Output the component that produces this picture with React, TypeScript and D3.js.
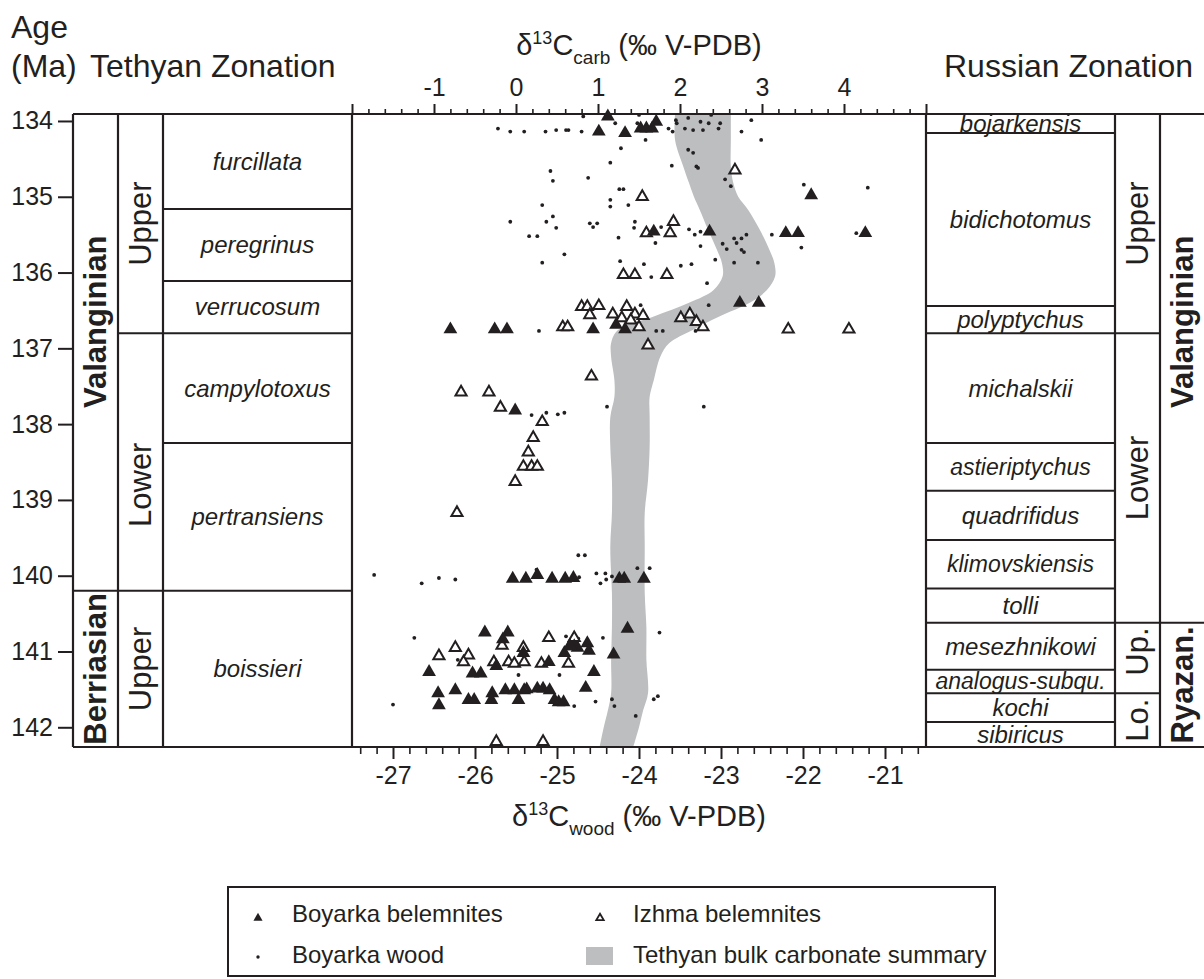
import { useEffect, useRef } from 'react'
import * as d3 from 'd3'

// ---- data ----
type Unit = { name: string; top: number; base: number; labelAge?: number }

const ageTicks = [134, 135, 136, 137, 138, 139, 140, 141, 142]
const carbLabels = [-1, 0, 1, 2, 3, 4]
const woodLabels = [-27, -26, -25, -24, -23, -22, -21]

const tethyanStages: Unit[] = [
  { name: 'Valanginian', top: 133.9, base: 140.2, labelAge: 136.65 },
  { name: 'Berriasian', top: 140.2, base: 142.26 },
]
const tethyanSubstages: Unit[] = [
  { name: 'Upper', top: 133.9, base: 136.8 },
  { name: 'Lower', top: 136.8, base: 140.2, labelAge: 138.8 },
  { name: 'Upper', top: 140.2, base: 142.26 },
]
const tethyanZones: Unit[] = [
  { name: 'furcillata', top: 133.9, base: 135.16 },
  { name: 'peregrinus', top: 135.16, base: 136.11 },
  { name: 'verrucosum', top: 136.11, base: 136.8 },
  { name: 'campylotoxus', top: 136.8, base: 138.25 },
  { name: 'pertransiens', top: 138.25, base: 140.2 },
  { name: 'boissieri', top: 140.2, base: 142.26 },
]
const russianZones: Unit[] = [
  { name: 'bojarkensis', top: 133.9, base: 134.16 },
  { name: 'bidichotomus', top: 134.16, base: 136.44 },
  { name: 'polyptychus', top: 136.44, base: 136.8 },
  { name: 'michalskii', top: 136.8, base: 138.25 },
  { name: 'astieriptychus', top: 138.25, base: 138.88 },
  { name: 'quadrifidus', top: 138.88, base: 139.53 },
  { name: 'klimovskiensis', top: 139.53, base: 140.17 },
  { name: 'tolli', top: 140.17, base: 140.62 },
  { name: 'mesezhnikowi', top: 140.62, base: 141.24 },
  { name: 'analogus-subqu.', top: 141.24, base: 141.55 },
  { name: 'kochi', top: 141.55, base: 141.93 },
  { name: 'sibiricus', top: 141.93, base: 142.26 },
]
const russianSubstages: Unit[] = [
  { name: 'Upper', top: 133.9, base: 136.8 },
  { name: 'Lower', top: 136.8, base: 140.62 },
  { name: 'Up.', top: 140.62, base: 141.55, labelAge: 141.0 },
  { name: 'Lo.', top: 141.55, base: 142.26 },
]
const russianStages: Unit[] = [
  { name: 'Valanginian', top: 133.9, base: 140.62, labelAge: 136.65 },
  { name: 'Ryazan.', top: 140.62, base: 142.26 },
]

// [age Ma, d13C carb]
const boyarkaBelemnites: [number, number][] = [
  [133.94, 1.12], [134.14, 1.01], [134.16, 1.33], [134.1, 1.52], [134.1, 1.59], [134.1, 1.66], [134.01, 1.71],
  [134.98, 3.6], [135.46, 2.36], [135.48, 3.29], [135.48, 3.44], [135.48, 4.26], [135.46, 1.68],
  [136.4, 2.73], [136.4, 2.96],
  [136.75, -0.8], [136.75, -0.26], [136.75, -0.11], [136.75, 0.94], [136.69, 1.22], [136.75, 1.33],
  [137.82, -0.01],
  [140.04, -0.04], [140.04, 0.12], [139.99, 0.26], [140.04, 0.44], [140.04, 0.6], [140.03, 0.7],
  [140.04, 1.26], [140.04, 1.32], [140.04, 1.56],
  [140.7, 1.36], [141.04, 1.19],
  [140.75, -0.38], [140.75, -0.1], [140.84, -0.16], [141.27, -1.06], [141.51, -0.74], [141.29, -0.53],
  [141.29, -0.43], [141.19, -0.24], [141.02, 0.09], [141.14, 0.4], [141.02, 0.59], [140.93, 0.71],
  [140.89, 0.87], [140.99, 0.89], [140.95, 0.75], [141.27, 0.95], [141.48, 0.85], [140.93, 0.66],
  [141.55, -0.95], [141.71, -0.94], [141.64, -0.58], [141.64, -0.51], [141.55, -0.29], [141.64, -0.3],
  [141.51, -0.13], [141.51, -0.02], [141.51, 0.1], [141.5, 0.13], [141.64, 0.03], [141.49, 0.26],
  [141.49, 0.33], [141.51, 0.41], [141.64, 0.47], [141.67, 0.52], [141.67, 0.58],
]

// [age Ma, d13C carb]
const izhmaBelemnites: [number, number][] = [
  [134.65, 2.67], [135.0, 1.54], [135.33, 1.92], [135.48, 1.88], [135.48, 1.59],
  [136.03, 1.31], [136.03, 1.45], [136.03, 1.84],
  [136.45, 0.8], [136.45, 0.87], [136.44, 1.01], [136.56, 0.9], [136.55, 1.18], [136.45, 1.35],
  [136.55, 1.45], [136.57, 1.55], [136.6, 1.29], [136.63, 1.4], [136.6, 2.01], [136.55, 2.12],
  [136.65, 2.2], [136.72, 2.28], [136.75, 3.32], [136.75, 4.06], [136.72, 0.57], [136.72, 0.63],
  [136.72, 1.5], [136.96, 1.61],
  [137.37, 0.92], [137.58, -0.67], [137.58, -0.33], [137.78, -0.19], [137.97, 0.32], [138.18, 0.21],
  [138.37, 0.15], [138.56, 0.09], [138.56, 0.19], [138.56, 0.26], [138.76, -0.01], [139.17, -0.72],
  [141.06, -0.94], [140.95, -0.74], [141.05, -0.58], [141.14, -0.64], [140.92, -0.17], [141.14, -0.27],
  [141.14, -0.09], [141.16, -0.02], [140.95, 0.09], [141.14, 0.1], [141.16, 0.31], [140.82, 0.4],
  [141.16, 0.64], [140.92, 0.66], [140.82, 0.71],
  [142.19, -0.24], [142.19, 0.33],
]

// [age Ma, d13C wood]
const boyarkaWood: [number, number][] = [
  [134.1, -25.72], [134.14, -25.57], [134.14, -25.4], [134.14, -25.14], [134.12, -25.01], [134.12, -24.89],
  [134.12, -24.86], [134.14, -24.7], [133.94, -24.68], [134.03, -24.29], [134.03, -24.02], [133.92, -24.0],
  [134.25, -23.92], [134.1, -23.64], [134.14, -23.59], [134.03, -23.54], [133.99, -23.55], [133.96, -23.4],
  [134.1, -23.44], [134.12, -23.34], [134.01, -23.25], [134.12, -23.22], [134.03, -23.15], [134.1, -23.03],
  [134.03, -23.01], [133.92, -23.12], [134.14, -22.75], [133.99, -22.63], [134.25, -22.51],
  [134.36, -24.22], [134.38, -23.4], [134.42, -23.34], [134.55, -24.35], [134.59, -23.6], [134.6, -23.3],
  [134.62, -23.28], [134.66, -25.08], [134.79, -25.05], [134.75, -24.62], [134.77, -22.95], [134.86, -22.88],
  [134.84, -21.99], [134.88, -21.21], [134.9, -24.24], [134.9, -24.19], [135.04, -24.35], [135.13, -24.35],
  [135.11, -24.13], [135.11, -25.18], [135.26, -25.05], [135.33, -25.13], [135.33, -25.57], [135.41, -25.01],
  [135.52, -25.34], [135.52, -25.24], [135.35, -24.6], [135.4, -24.56], [135.35, -24.51], [135.33, -24.05],
  [135.41, -24.06], [135.54, -24.25], [135.4, -23.73], [135.43, -23.39], [135.5, -23.32], [135.46, -23.25],
  [135.61, -23.8], [135.65, -23.25], [135.62, -22.98], [135.69, -22.93], [135.55, -22.84], [135.61, -22.81],
  [135.55, -22.75], [135.5, -22.69], [135.7, -22.75], [135.73, -22.72], [135.5, -22.38], [135.48, -21.35],
  [135.67, -22.02], [135.76, -24.91], [135.87, -25.18], [135.85, -24.23], [135.89, -23.94], [135.91, -23.49],
  [135.89, -23.36], [135.83, -23.07], [135.87, -22.84], [135.87, -22.55], [136.06, -23.85], [136.14, -23.17],
  [136.43, -23.98], [136.43, -23.15], [136.77, -25.22], [136.77, -23.79], [136.77, -23.71], [136.77, -23.31],
  [137.77, -24.39], [137.77, -23.21], [137.88, -25.31], [137.85, -25.13], [137.87, -24.99], [137.85, -24.91],
  [139.73, -24.74], [139.73, -24.66], [139.99, -27.23], [140.1, -26.65], [140.03, -26.44], [140.05, -26.24],
  [139.92, -25.25], [140.02, -24.73], [139.97, -24.52], [139.97, -24.41], [140.05, -24.4], [140.1, -24.47],
  [140.01, -24.33], [139.9, -24.02], [139.9, -23.87],
  [140.82, -26.74], [141.11, -26.21], [141.31, -25.47], [141.31, -24.97], [140.82, -24.44], [140.75, -23.75],
  [141.7, -27.0], [141.72, -24.79], [141.66, -24.53], [141.63, -24.33], [141.72, -24.3], [141.85, -24.04],
  [141.63, -23.82], [141.59, -23.77], [140.8, -24.89], [140.83, -24.74],
]

// Tethyan bulk carbonate summary envelope (d13C carb)
const bulkAge = [133.9, 134.25, 134.6, 134.82, 135.0, 135.17, 135.43, 135.7, 135.87, 136.05, 136.23, 136.4,
  136.58, 136.76, 136.93, 137.11, 137.42, 137.64, 137.91, 138.3, 138.74, 139.17, 139.62, 140.23, 140.68,
  141.11, 141.55, 141.78, 142.0, 142.26]
const bulkLow = [1.94, 1.94, 2.04, 2.11, 2.17, 2.24, 2.34, 2.45, 2.51, 2.52, 2.41, 2.11, 1.68, 1.24, 1.16,
  1.16, 1.2, 1.2, 1.15, 1.15, 1.17, 1.17, 1.15, 1.17, 1.17, 1.16, 1.16, 1.12, 1.07, 1.02]
const bulkHigh = [2.62, 2.62, 2.62, 2.65, 2.71, 2.83, 2.97, 3.09, 3.15, 3.16, 3.06, 2.85, 2.48, 2.15, 1.87,
  1.76, 1.68, 1.63, 1.63, 1.63, 1.61, 1.57, 1.57, 1.57, 1.59, 1.59, 1.61, 1.55, 1.5, 1.43]

// ---- layout ----
const W = 1204
const H = 979
const FONT = '"Liberation Sans", Arial, Helvetica, sans-serif'
const INK = '#231f20'
const GREY = '#bcbec0'
const yTop = 114
const yBot = 747
const xAxisL = 73
const xStage = 118
const xSub = 163
const xPlotL = 352
const xPlotR = 926
const xRZone = 1115
const xRSub = 1160
const xRight = 1204

export default function App() {
  const svgRef = useRef<SVGSVGElement>(null)

  useEffect(() => {
    const svg = d3.select(svgRef.current)
    svg.selectAll('*').remove()

    const yAge = d3.scaleLinear().domain([133.908, 142.26]).range([yTop, yBot])
    const xCarb = d3.scaleLinear().domain([-2, 5]).range([xPlotL, xPlotR])
    const xWood = d3.scaleLinear().domain([-27.5, -20.5]).range([xPlotL, xPlotR])

    svg.append('rect').attr('width', W).attr('height', H).attr('fill', '#fff')

    const g = svg.append('g').style('font-family', FONT).attr('fill', INK)

    // clip for band
    svg.append('defs').append('clipPath').attr('id', 'plotclip')
      .append('rect')
      .attr('x', xPlotL).attr('y', yTop)
      .attr('width', xPlotR - xPlotL).attr('height', yBot - yTop)

    // bulk carbonate band
    const bandData = bulkAge.map((a, i) => ({ age: a, lo: bulkLow[i], hi: bulkHigh[i] }))
    const band = d3.area<{ age: number; lo: number; hi: number }>()
      .y(d => yAge(d.age))
      .x0(d => xCarb(d.lo))
      .x1(d => xCarb(d.hi))
      .curve(d3.curveCatmullRom)
    g.append('path')
      .attr('clip-path', 'url(#plotclip)')
      .attr('d', band(bandData))
      .attr('fill', GREY)

    // column units
    const drawColumn = (units: Unit[], x0: number, x1: number, kind: 'zone' | 'sub' | 'stage') => {
      units.forEach((u, i) => {
        if (i < units.length - 1) {
          g.append('line')
            .attr('x1', x0).attr('x2', x1)
            .attr('y1', yAge(u.base)).attr('y2', yAge(u.base))
            .attr('stroke', INK).attr('stroke-width', 2)
        }
        const top = Math.max(yAge(u.top), yTop)
        const bot = Math.min(yAge(u.base), yBot)
        const cy = u.labelAge != null ? yAge(u.labelAge) : (top + bot) / 2
        const cx = (x0 + x1) / 2
        if (kind === 'zone') {
          g.append('text')
            .attr('x', cx).attr('y', cy).attr('dy', '0.35em')
            .attr('text-anchor', 'middle')
            .style('font-style', 'italic')
            .style('font-size', u.name.length > 13 ? '23px' : '24px')
            .text(u.name)
        } else {
          g.append('text')
            .attr('transform', `translate(${cx},${cy}) rotate(-90)`)
            .attr('dy', '0.35em')
            .attr('text-anchor', 'middle')
            .style('font-size', '31px')
            .style('font-weight', kind === 'stage' ? 'bold' : 'normal')
            .text(u.name)
        }
      })
    }
    drawColumn(tethyanStages, xAxisL, xStage, 'stage')
    drawColumn(tethyanSubstages, xStage, xSub, 'sub')
    drawColumn(tethyanZones, xSub, xPlotL, 'zone')
    drawColumn(russianZones, xPlotR, xRZone, 'zone')
    drawColumn(russianSubstages, xRZone, xRSub, 'sub')
    drawColumn(russianStages, xRSub, xRight, 'stage')

    // frame
    ;[yTop, yBot].forEach(yy => {
      g.append('line').attr('x1', xAxisL).attr('x2', xRight).attr('y1', yy).attr('y2', yy)
        .attr('stroke', INK).attr('stroke-width', 2.2)
    })
    ;[xAxisL, xStage, xSub, xPlotL, xPlotR, xRZone, xRSub].forEach(xx => {
      g.append('line').attr('x1', xx).attr('x2', xx).attr('y1', yTop).attr('y2', yBot)
        .attr('stroke', INK).attr('stroke-width', 2.2)
    })

    // age axis
    const ageAxis = g.append('g')
      .attr('transform', `translate(${xAxisL},0)`)
      .call(d3.axisLeft(yAge).tickValues(ageTicks).tickSize(15).tickPadding(5).tickFormat(d => String(d)))
    ageAxis.select('.domain').remove()
    ageAxis.selectAll('line').attr('stroke', INK).attr('stroke-width', 2)
    ageAxis.selectAll('text').attr('fill', INK).style('font-size', '25px').style('font-family', FONT)

    const isInt = (v: number) => Math.abs(v - Math.round(v)) < 1e-6

    // top carbonate axis
    const carbMajor = d3.range(-2, 6)
    const carbMinor = d3.ticks(-2, 5, 35).filter(v => !isInt(v))
    const topMinor = g.append('g').attr('transform', `translate(0,${yTop})`)
      .call(d3.axisTop(xCarb).tickValues(carbMinor).tickSize(5).tickFormat(() => ''))
    topMinor.select('.domain').remove()
    topMinor.selectAll('line').attr('stroke', INK).attr('stroke-width', 1.6)
    const topMajor = g.append('g').attr('transform', `translate(0,${yTop})`)
      .call(d3.axisTop(xCarb).tickValues(carbMajor).tickSize(10).tickPadding(8)
        .tickFormat(d => (carbLabels.includes(+d) ? String(d) : '')))
    topMajor.select('.domain').remove()
    topMajor.selectAll('line').attr('stroke', INK).attr('stroke-width', 2)
    topMajor.selectAll('text').attr('fill', INK).style('font-size', '25px').style('font-family', FONT)

    // bottom wood axis
    const woodMinor = d3.ticks(-27.5, -20.5, 35).filter(v => !isInt(v))
    const botMinor = g.append('g').attr('transform', `translate(0,${yBot})`)
      .call(d3.axisBottom(xWood).tickValues(woodMinor).tickSize(7).tickFormat(() => ''))
    botMinor.select('.domain').remove()
    botMinor.selectAll('line').attr('stroke', INK).attr('stroke-width', 1.6)
    const botMajor = g.append('g').attr('transform', `translate(0,${yBot})`)
      .call(d3.axisBottom(xWood).tickValues(woodLabels).tickSize(12).tickPadding(7)
        .tickFormat(d => String(d)))
    botMajor.select('.domain').remove()
    botMajor.selectAll('line').attr('stroke', INK).attr('stroke-width', 2)
    botMajor.selectAll('text').attr('fill', INK).style('font-size', '25px').style('font-family', FONT)

    // axis titles
    const title = (yy: number, sub: string) => {
      const t = g.append('text')
        .attr('x', (xPlotL + xPlotR) / 2).attr('y', yy)
        .attr('text-anchor', 'middle')
        .style('font-size', '29px')
      t.append('tspan').text('δ')
      t.append('tspan').attr('dy', -11).style('font-size', '18px').text('13')
      t.append('tspan').attr('dy', 11).text('C')
      t.append('tspan').attr('dy', 9).style('font-size', '19px').text(sub)
      t.append('tspan').attr('dy', -9).text(' (‰ V-PDB)')
    }
    title(55, 'carb')
    title(826, 'wood')

    // headers
    g.append('text').attr('x', 11).attr('y', 38).style('font-size', '32px').text('Age')
    g.append('text').attr('x', 11).attr('y', 77).style('font-size', '32px').text('(Ma)')
    g.append('text').attr('x', 90).attr('y', 77).style('font-size', '32px').text('Tethyan Zonation')
    g.append('text').attr('x', 944).attr('y', 77).style('font-size', '32px').text('Russian Zonation')

    // wood dots
    g.append('g').selectAll('circle')
      .data(boyarkaWood)
      .join('circle')
      .attr('cx', d => xWood(d[1]))
      .attr('cy', d => yAge(d[0]))
      .attr('r', 1.9)
      .attr('fill', INK)

    const triFilled = d3.symbol(d3.symbolTriangle, 82)()
    const triOpen = d3.symbol(d3.symbolTriangle, 54)()

    g.append('g').selectAll('path')
      .data(izhmaBelemnites)
      .join('path')
      .attr('transform', d => `translate(${xCarb(d[1])},${yAge(d[0])})`)
      .attr('d', triOpen)
      .attr('fill', '#fff')
      .attr('stroke', INK)
      .attr('stroke-width', 2)
      .attr('stroke-linejoin', 'miter')

    g.append('g').selectAll('path')
      .data(boyarkaBelemnites)
      .join('path')
      .attr('transform', d => `translate(${xCarb(d[1])},${yAge(d[0])})`)
      .attr('d', triFilled)
      .attr('fill', INK)

    // legend
    const lg = g.append('g')
    lg.append('rect')
      .attr('x', 228).attr('y', 887).attr('width', 767).attr('height', 89)
      .attr('fill', 'none').attr('stroke', INK).attr('stroke-width', 2)
    lg.append('path').attr('transform', 'translate(258,918)')
      .attr('d', d3.symbol(d3.symbolTriangle, 36)()).attr('fill', INK)
    lg.append('text').attr('x', 292).attr('y', 922).style('font-size', '24px').text('Boyarka belemnites')
    lg.append('path').attr('transform', 'translate(600,918)')
      .attr('d', d3.symbol(d3.symbolTriangle, 24)())
      .attr('fill', '#fff').attr('stroke', INK).attr('stroke-width', 1.8)
    lg.append('text').attr('x', 633).attr('y', 922).style('font-size', '24px').text('Izhma belemnites')
    lg.append('circle').attr('cx', 258).attr('cy', 957).attr('r', 1.7).attr('fill', INK)
    lg.append('text').attr('x', 292).attr('y', 963).style('font-size', '24px').text('Boyarka wood')
    lg.append('rect').attr('x', 586).attr('y', 947).attr('width', 27).attr('height', 18).attr('fill', GREY)
    lg.append('text').attr('x', 633).attr('y', 963).style('font-size', '24px').text('Tethyan bulk carbonate summary')
  }, [])

  return (
    <svg
      ref={svgRef}
      width={W}
      height={H}
      style={{ position: 'absolute', left: 0, top: 0, display: 'block' }}
    />
  )
}
